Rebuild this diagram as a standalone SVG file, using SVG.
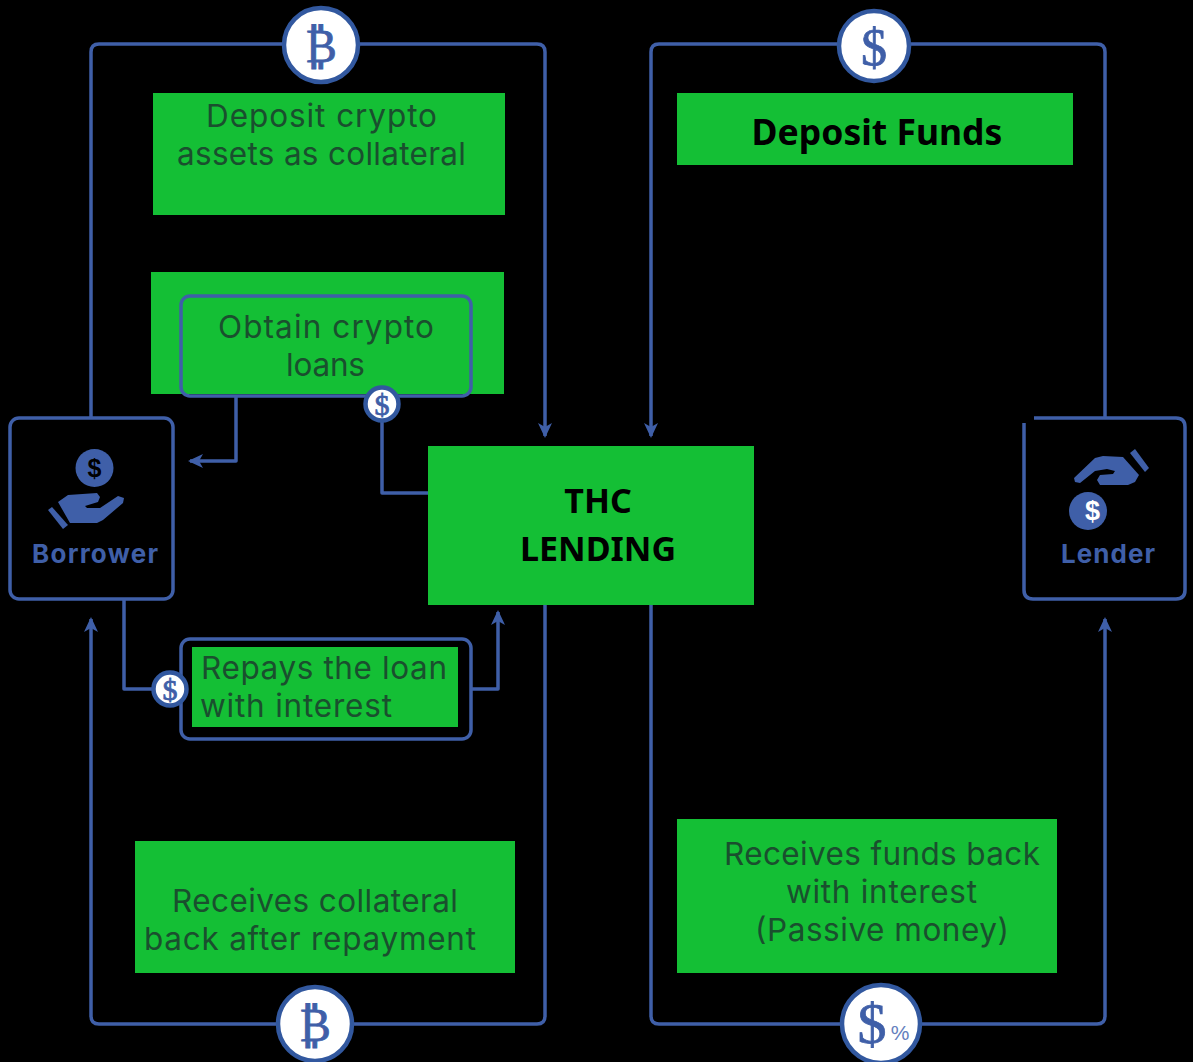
<svg xmlns="http://www.w3.org/2000/svg" width="1193" height="1062" viewBox="0 0 1193 1062">
<style>
.g{fill:#14bf35}
.ln{fill:none;stroke:#3f5fa8;stroke-width:3.5;stroke-linejoin:round}
.box{fill:none;stroke:#3f5fa8;stroke-width:3.5}
.t{font-family:"Inter","Open Sans","Liberation Sans",sans-serif;font-size:31.500px;fill:#1a4f2e}
.b{font-family:"Noto Sans","Liberation Sans",sans-serif;font-weight:700;font-size:34px;fill:#000;text-anchor:middle}
.coin{fill:#fff;stroke:#32589f;stroke-width:4.5}
.sym{font-family:"Liberation Serif",serif;fill:#3f5fa8;stroke:#3f5fa8;stroke-width:.8;text-anchor:middle}
.lab{font-family:"Inter","Open Sans","Liberation Sans",sans-serif;font-weight:700;font-size:26px;fill:#3f5fa8}
.ic{fill:#3f5fa8}
</style>
<defs>
<marker id="arr" markerWidth="16" markerHeight="14" refX="13" refY="7" orient="auto" markerUnits="userSpaceOnUse"><path d="M0 0L15 7L0 14L4 7Z" fill="#3f5fa8"/></marker>
</defs>
<rect width="1193" height="1062" fill="#000"/>
<g id="connectors">
<path class="ln" d="M91 417V52Q91 44 99 44H537Q545 44 545 52V436" marker-end="url(#arr)"/>
<path class="ln" d="M1105 417V52Q1105 44 1097 44H659Q651 44 651 52V436" marker-end="url(#arr)"/>
<path class="ln" d="M545 605V1016Q545 1024 537 1024H99Q91 1024 91 1016V619" marker-end="url(#arr)"/>
<path class="ln" d="M651 605V1016Q651 1024 659 1024H1097Q1105 1024 1105 1016V619" marker-end="url(#arr)"/>
<path class="ln" d="M236 396V461H190" marker-end="url(#arr)"/>
<path class="ln" d="M382 420V493H428"/>
<path class="ln" d="M124 599V689H155"/>
<path class="ln" d="M471 689H498V612" marker-end="url(#arr)"/>
</g>
<g id="deposit-crypto">
<rect class="g" x="153" y="93" width="352" height="122"/>
<text class="t" x="206" y="127" textLength="231">Deposit crypto</text>
<text class="t" x="177" y="165" textLength="289">assets as collateral</text>
</g>
<g id="deposit-funds">
<rect class="g" x="677" y="93" width="396" height="72"/>
<text class="b" x="877" y="145" font-size="35.500" style="font-size:35.500px">Deposit Funds</text>
</g>
<g id="obtain-loans">
<rect class="g" x="151" y="272" width="353" height="122"/>
<rect class="box" x="181" y="296" width="290" height="100" rx="9"/>
<text class="t" x="218" y="338" textLength="216">Obtain crypto</text>
<text class="t" x="286" y="376" textLength="79">loans</text>
</g>
<g id="repays-loan">
<rect class="box" x="181" y="639" width="290" height="100" rx="9"/>
<rect class="g" x="192" y="647" width="266" height="80"/>
<text class="t" x="201" y="679" textLength="246">Repays the loan</text>
<text class="t" x="200" y="717" textLength="192">with interest</text>
</g>
<g id="thc-lending">
<rect class="g" x="428" y="446" width="326" height="159"/>
<text class="b" x="598" y="513">THC</text>
<text class="b" x="598" y="561">LENDING</text>
</g>
<g id="receives-collateral">
<rect class="g" x="135" y="841" width="380" height="132"/>
<text class="t" x="172" y="912" textLength="286">Receives collateral</text>
<text class="t" x="144" y="950" textLength="332">back after repayment</text>
</g>
<g id="receives-funds">
<rect class="g" x="677" y="819" width="380" height="154"/>
<text class="t" x="724" y="865" textLength="316">Receives funds back</text>
<text class="t" x="786" y="903" textLength="191">with interest</text>
<text class="t" x="755" y="941" textLength="254">(Passive money)</text>
</g>
<g id="borrower">
<rect class="box" x="10" y="418" width="163" height="181" rx="9"/>
<circle class="ic" cx="94.500" cy="468" r="19"/>
<text x="94.500" y="477" font-family="Liberation Sans,sans-serif" font-weight="700" font-size="25" fill="#000" text-anchor="middle">$</text>
<path class="ic" d="M58 502L68 495L97 493L100 497L98 502L85 506L87 508H100L118 496L124 498L123 503L103 520L97 523H70Z"/>
<path class="ic" d="M48 510L52 507L68 525L63 529Z"/>
<text class="lab" x="32" y="563" textLength="126">Borrower</text>
</g>
<g id="lender">
<path class="box" d="M1034 418H1176Q1185 418 1185 427V590Q1185 599 1176 599H1033Q1024 599 1024 590V423"/>
<path class="ic" d="M1074 478L1095 458L1103 456L1123 457L1139 475L1135 482L1128 485H1100L1097 480L1100 475L1113 474L1115 471L1107 469L1095 471L1080 483L1075 482Z"/>
<path class="ic" d="M1130 453L1135 449L1149 468L1145 472Z"/>
<circle class="ic" cx="1088" cy="511" r="19"/>
<text x="1092.500" y="520" font-family="Liberation Sans,sans-serif" font-weight="700" font-size="27" fill="#fff" text-anchor="middle">$</text>
<text class="lab" x="1061" y="563" textLength="94">Lender</text>
</g>
<g id="coin-btc-top">
<circle class="coin" cx="321" cy="45" r="37"/>
<text class="sym" x="321" y="62" font-size="46">₿</text>
</g>
<g id="coin-usd-top">
<circle class="coin" cx="874" cy="46" r="35"/>
<text class="sym" x="874" y="65" font-size="52">$</text>
</g>
<g id="coin-btc-bottom">
<circle class="coin" cx="315" cy="1024" r="37"/>
<text class="sym" x="315" y="1041" font-size="46">₿</text>
</g>
<g id="coin-usd-percent">
<circle class="coin" cx="881" cy="1024" r="39"/>
<text class="sym" x="872" y="1043" font-size="58">$</text>
<text x="900" y="1040" font-size="21" font-family="Liberation Sans,sans-serif" fill="#6480bd" text-anchor="middle">%</text>
</g>
<g id="coin-usd-obtain">
<circle class="coin" cx="382" cy="404" r="16.5"/>
<text class="sym" x="382" y="415" font-size="30">$</text>
</g>
<g id="coin-usd-repay">
<circle class="coin" cx="170" cy="689" r="16.5"/>
<text class="sym" x="170" y="700" font-size="30">$</text>
</g>
</svg>
